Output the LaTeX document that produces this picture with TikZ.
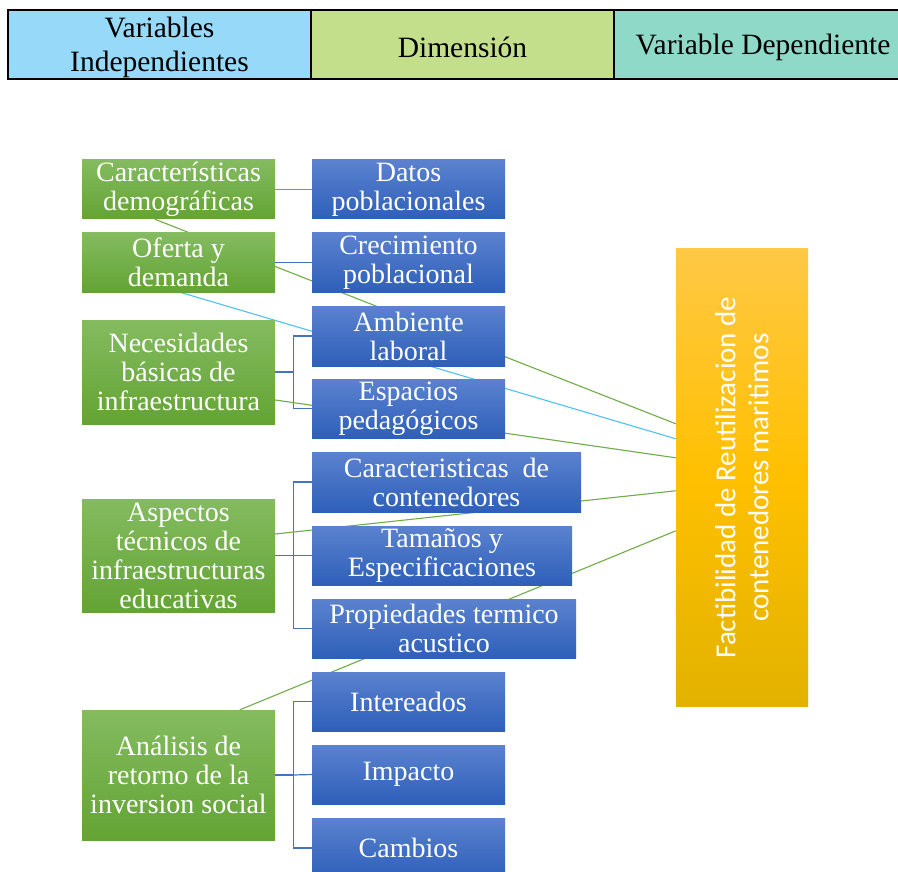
\documentclass[tikz,border=0pt]{standalone}
\usepackage{fontspec}
\setmainfont{Liberation Serif}
\newfontfamily\carl{Carlito}
\usetikzlibrary{calc}
\pgfdeclarelayer{background}
\pgfsetlayers{background,main}
\definecolor{hblue}{HTML}{97D9F8}
\definecolor{hgreen}{HTML}{C4DF8C}
\definecolor{hteal}{HTML}{8ED9C8}
\definecolor{gtop}{HTML}{84BB60}
\definecolor{gbot}{HTML}{63A434}
\definecolor{btop}{HTML}{5B82CF}
\definecolor{bbot}{HTML}{2E5FB9}
\definecolor{otop}{HTML}{FFC845}
\definecolor{omid}{HTML}{FFC000}
\definecolor{obot}{HTML}{E2B200}
\definecolor{lnblue}{HTML}{4472C4}
\definecolor{lngreen}{HTML}{70AD47}
\definecolor{lnsky}{HTML}{4FC1F2}
\begin{document}
\begin{tikzpicture}[x=1pt,y=-1pt,
  hcell/.style={draw=black, line width=2pt, minimum height=69pt, inner sep=0pt},
  htext/.style={inner sep=0pt, align=center, font=\fontsize{29.5}{34}\selectfont},
  gbox/.style={top color=gtop, bottom color=gbot, draw=none, text=white, inner sep=0pt,
    minimum width=193pt, align=center, font=\fontsize{28}{29}\selectfont},
  bbox/.style={top color=btop, bottom color=bbot, draw=none, text=white, inner sep=0pt,
    minimum width=193pt, minimum height=59pt, align=center, font=\fontsize{28}{29}\selectfont},
  obox/.style={top color=otop, bottom color=obot, middle color=omid, draw=none, inner sep=0pt},
  bline/.style={draw=lnblue, line width=1.2pt},
  gline/.style={draw=lngreen, line width=1.1pt},
  sline/.style={draw=lnsky, line width=1.1pt}]
\useasboundingbox (0,0) rectangle (898,872);
\begin{pgfonlayer}{background}
\fill[white] (0,0) rectangle (898,872);
\end{pgfonlayer}
% header
\node[hcell, fill=hblue, minimum width=303pt] (h1) at (159.5,44.5) {};
\node[hcell, fill=hgreen, minimum width=303pt] (h2) at (462.5,44.5) {};
\node[hcell, fill=hteal, minimum width=298pt] (h3) at (763,44.5) {};
\node[htext] (h1t) at ($(h1.center)+(0,2.5)$) {Variables\\Independientes};
\node[htext] (h2t) at ($(h2.center)+(0,2.5)$) {Dimensión};
\node[htext] (h3t) at ($(h3.center)+(0,2.5)$) {Variable Dependiente};
% green boxes
\node[gbox, minimum height=59pt] (cd) at (178.5,189.5) {Características\\demográficas};
\node[gbox, minimum height=59pt] (od) at (178.5,262.5) {Oferta y\\demanda};
\node[gbox, minimum height=104pt] (nb) at (178.5,372) {Necesidades\\básicas de\\infraestructura};
\node[gbox, minimum height=113pt] (at) at (178.5,555.5) {Aspectos\\técnicos de\\infraestructuras\\educativas};
\node[gbox, minimum height=130pt] (ar) at (178.5,775) {Análisis de\\retorno de la\\inversion social};
% blue boxes
\node[bbox] (dp) at (408.5,189.5) {Datos\\poblacionales};
\node[bbox] (cp) at (408.5,262.5) {Crecimiento\\poblacional};
\node[bbox, minimum height=60pt] (al) at (408.5,336) {Ambiente\\laboral};
\node[bbox] (ep) at (408.5,408.5) {Espacios\\pedagógicos};
\node[bbox, minimum width=269pt, minimum height=60pt] (cc) at (446.5,482) {Caracteristicas\enspace de\\contenedores};
\node[bbox, minimum width=260pt] (te) at (442,555.5) {Tamaños y\\Especificaciones};
\node[bbox, minimum width=264pt] (pt) at (444,628.5) {Propiedades termico\\acustico};
\node[bbox] (in) at (408.5,701.5) {Intereados};
\node[bbox] (im) at (408.5,774.5) {Impacto};
\node[bbox, minimum height=60pt] (ca) at (408.5,848) {Cambios};
% orange box
\node[obox, minimum width=132pt, minimum height=457pt] (or) at (742,477.5) {};
\node[rotate=90, text=white, align=center, inner sep=0pt,
  font=\carl\fontsize{29}{33}\selectfont] (ort) at (or.center)
  {Factibilidad de Reutilizacion de\\contenedores maritimos};
% connectors
\begin{pgfonlayer}{background}
\draw[bline] (od.east) -- (cp.west);
\draw[bline] (nb.east) -- ++(18,0) coordinate (nbk) |- (al.west);
\draw[bline] (nbk) |- (ep.west);
\draw[bline] (at.east) -- ++(18,0) coordinate (atk) |- (cc.west);
\draw[bline] (atk) -- (te.west);
\draw[bline] (atk) |- (pt.west);
\draw[bline] (ar.east) -- ++(18,0) coordinate (ark) |- (in.west);
\draw[bline] (ark) -- (im.west);
\draw[bline] (ark) |- (ca.west);
\draw[gline] (cd.east) -- (dp.west);
\draw[gline] ($(cd.south west)+(73,0)$) -- ($(or.north west)+(0,175)$);
\draw[sline] ($(od.south west)+(98,0)$) -- ($(or.north west)+(0,190)$);
\draw[gline] ($(nb.east)+(0,28)$) -- ($(or.north west)+(0,209)$);
\draw[gline] ($(at.east)+(0,-21.5)$) -- ($(or.north west)+(0,242)$);
\draw[gline] ($(ar.north west)+(158,0)$) -- ($(or.north west)+(0,282)$);
\end{pgfonlayer}
\end{tikzpicture}
\end{document}
